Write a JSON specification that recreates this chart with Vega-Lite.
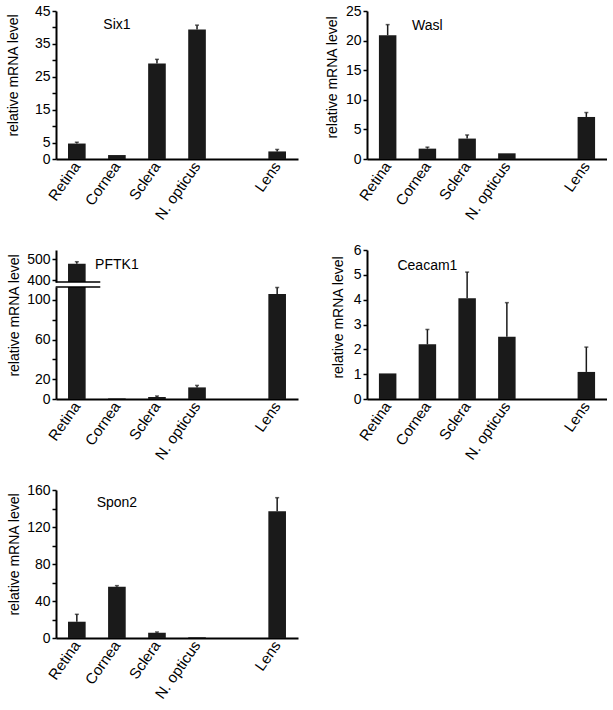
{
  "$schema": "https://vega.github.io/schema/vega-lite/v6.json",
  "background": "white",
  "padding": {"left": 6, "top": 4, "right": 0, "bottom": 0},
  "config": {
    "view": {"stroke": null},
    "font": "Liberation Sans",
    "axis": {"domainColor": "black", "domainWidth": 2, "tickColor": "black", "tickWidth": 1.5, "tickSize": 4, "labelColor": "black", "labelFontSize": 14, "labelFont": "Liberation Sans", "titleFont": "Liberation Sans", "titleFontSize": 14, "titleFontWeight": "normal", "titleColor": "black", "grid": false, "labelPadding": 2, "labelOverlap": false, "labelBound": false, "labelFlush": false},
    "axisX": {"labelAngle": -55, "ticks": false, "labelPadding": 4, "labelFontSize": 15},
    "text": {"font": "Liberation Sans", "fontSize": 14, "color": "black"}
  },
  "datasets": {
    "expr": [
      {"gene": "Six1", "tissue": "Retina", "value": 4.7, "upper": 5.1},
      {"gene": "Six1", "tissue": "Cornea", "value": 1.2, "upper": 1.2},
      {"gene": "Six1", "tissue": "Sclera", "value": 29.0, "upper": 30.3},
      {"gene": "Six1", "tissue": "N. opticus", "value": 39.4, "upper": 40.7},
      {"gene": "Six1", "tissue": "Lens", "value": 2.3, "upper": 2.9},
      {"gene": "Wasl", "tissue": "Retina", "value": 20.9, "upper": 22.7},
      {"gene": "Wasl", "tissue": "Cornea", "value": 1.75, "upper": 2.0},
      {"gene": "Wasl", "tissue": "Sclera", "value": 3.45, "upper": 4.06},
      {"gene": "Wasl", "tissue": "N. opticus", "value": 0.96, "upper": 0.96},
      {"gene": "Wasl", "tissue": "Lens", "value": 7.1, "upper": 7.85},
      {"gene": "PFTK1", "tissue": "Retina", "value": 479, "upper": 489},
      {"gene": "PFTK1", "tissue": "Cornea", "value": 0.6, "upper": 0.6},
      {"gene": "PFTK1", "tissue": "Sclera", "value": 2.0, "upper": 3.0},
      {"gene": "PFTK1", "tissue": "N. opticus", "value": 11.7, "upper": 13.7},
      {"gene": "PFTK1", "tissue": "Lens", "value": 106, "upper": 112.5},
      {"gene": "Ceacam1", "tissue": "Retina", "value": 1.03, "upper": 1.03},
      {"gene": "Ceacam1", "tissue": "Cornea", "value": 2.2, "upper": 2.8},
      {"gene": "Ceacam1", "tissue": "Sclera", "value": 4.06, "upper": 5.11},
      {"gene": "Ceacam1", "tissue": "N. opticus", "value": 2.51, "upper": 3.88},
      {"gene": "Ceacam1", "tissue": "Lens", "value": 1.09, "upper": 2.09},
      {"gene": "Spon2", "tissue": "Retina", "value": 17.6, "upper": 25.6},
      {"gene": "Spon2", "tissue": "Cornea", "value": 55.5, "upper": 56.6},
      {"gene": "Spon2", "tissue": "Sclera", "value": 5.8, "upper": 6.5},
      {"gene": "Spon2", "tissue": "N. opticus", "value": 0.8, "upper": 0.8},
      {"gene": "Spon2", "tissue": "Lens", "value": 137, "upper": 151.7}
    ]
  },
  "columns": 2,
  "spacing": {"row": 91, "column": 69},
  "bounds": "flush",
  "concat": [
    {
      "width": 242, "height": 148,
      "layer": [
        {"data": {"name": "expr"}, "transform": [{"filter": "datum.gene === 'Six1'"}],
         "mark": {"type": "bar", "color": "#1a1a1a"},
         "encoding": {
           "x": {"field": "tissue", "type": "nominal", "title": null, "scale": {"domain": ["Retina", "Cornea", "Sclera", "N. opticus", " ", "Lens"], "paddingInner": 0.56, "paddingOuter": 0.3}},
           "y": {"field": "value", "type": "quantitative", "title": "relative mRNA level", "scale": {"domain": [0, 45], "nice": false}, "axis": {"values": [0, 5, 10, 15, 20, 25, 30, 35, 40, 45], "labelExpr": "(datum.value % 10 == 5 || datum.value == 0) ? datum.label : ''", "titlePadding": 13.5, "titleY": 64}}
         }},
        {"data": {"name": "expr"}, "transform": [{"filter": "datum.gene === 'Six1' && datum.upper > datum.value"}],
         "mark": {"type": "rule", "color": "#1a1a1a", "strokeWidth": 1.5},
         "encoding": {
           "x": {"field": "tissue", "type": "nominal", "title": null},
           "y": {"field": "value", "type": "quantitative", "title": "relative mRNA level", "axis": {"values": [0, 5, 10, 15, 20, 25, 30, 35, 40, 45], "labelExpr": "(datum.value % 10 == 5 || datum.value == 0) ? datum.label : ''", "titlePadding": 13.5, "titleY": 64}},
           "y2": {"field": "upper"}
         }},
        {"data": {"name": "expr"}, "transform": [{"filter": "datum.gene === 'Six1' && datum.upper > datum.value"}],
         "mark": {"type": "tick", "color": "#1a1a1a", "size": 4, "thickness": 1.5},
         "encoding": {
           "x": {"field": "tissue", "type": "nominal", "title": null},
           "y": {"field": "upper", "type": "quantitative", "title": "relative mRNA level", "axis": {"values": [0, 5, 10, 15, 20, 25, 30, 35, 40, 45], "labelExpr": "(datum.value % 10 == 5 || datum.value == 0) ? datum.label : ''", "titlePadding": 13.5, "titleY": 64}}
         }},
        {"data": {"values": [{"label": "Six1"}]},
         "mark": {"type": "text"},
         "encoding": {"x": {"datum": "Cornea", "title": null}, "y": {"datum": 40.6, "title": "relative mRNA level", "axis": {"values": [0, 5, 10, 15, 20, 25, 30, 35, 40, 45], "labelExpr": "(datum.value % 10 == 5 || datum.value == 0) ? datum.label : ''", "titlePadding": 13.5, "titleY": 64}}, "text": {"field": "label"}}}
      ]
    },
    {
      "width": 240, "height": 148,
      "layer": [
        {"data": {"name": "expr"}, "transform": [{"filter": "datum.gene === 'Wasl'"}],
         "mark": {"type": "bar", "color": "#1a1a1a"},
         "encoding": {
           "x": {"field": "tissue", "type": "nominal", "title": null, "scale": {"domain": ["Retina", "Cornea", "Sclera", "N. opticus", " ", "Lens"], "paddingInner": 0.56, "paddingOuter": 0.3}},
           "y": {"field": "value", "type": "quantitative", "title": "relative mRNA level", "scale": {"domain": [0, 25], "nice": false}, "axis": {"values": [0, 5, 10, 15, 20, 25], "titlePadding": 5.5, "titleY": 66}}
         }},
        {"data": {"name": "expr"}, "transform": [{"filter": "datum.gene === 'Wasl' && datum.upper > datum.value"}],
         "mark": {"type": "rule", "color": "#1a1a1a", "strokeWidth": 1.5},
         "encoding": {
           "x": {"field": "tissue", "type": "nominal", "title": null},
           "y": {"field": "value", "type": "quantitative", "title": "relative mRNA level", "axis": {"values": [0, 5, 10, 15, 20, 25], "titlePadding": 5.5, "titleY": 66}},
           "y2": {"field": "upper"}
         }},
        {"data": {"name": "expr"}, "transform": [{"filter": "datum.gene === 'Wasl' && datum.upper > datum.value"}],
         "mark": {"type": "tick", "color": "#1a1a1a", "size": 4, "thickness": 1.5},
         "encoding": {
           "x": {"field": "tissue", "type": "nominal", "title": null},
           "y": {"field": "upper", "type": "quantitative", "title": "relative mRNA level", "axis": {"values": [0, 5, 10, 15, 20, 25], "titlePadding": 5.5, "titleY": 66}}
         }},
        {"data": {"values": [{"label": "Wasl"}]},
         "mark": {"type": "text"},
         "encoding": {"x": {"datum": "Cornea", "title": null}, "y": {"datum": 22.5, "title": "relative mRNA level", "axis": {"values": [0, 5, 10, 15, 20, 25], "titlePadding": 5.5, "titleY": 66}}, "text": {"field": "label"}}}
      ]
    },
    {
      "spacing": 5,
      "bounds": "flush",
      "vconcat": [
        {
          "width": 242, "height": 32,
          "layer": [
            {"data": {"name": "expr"}, "transform": [{"filter": "datum.gene === 'PFTK1' && datum.value > 392"}],
             "mark": {"type": "bar", "color": "#1a1a1a", "clip": true},
             "encoding": {
               "x": {"field": "tissue", "type": "nominal", "title": null, "axis": null, "scale": {"domain": ["Retina", "Cornea", "Sclera", "N. opticus", " ", "Lens"], "paddingInner": 0.56, "paddingOuter": 0.3}},
               "y": {"field": "value", "type": "quantitative", "title": null, "scale": {"domain": [392, 545], "nice": false, "zero": false}, "axis": {"values": [400, 500]}}
             }},
            {"data": {"name": "expr"}, "transform": [{"filter": "datum.gene === 'PFTK1' && datum.value > 392"}],
             "mark": {"type": "rule", "color": "#1a1a1a", "strokeWidth": 1.5},
             "encoding": {
               "x": {"field": "tissue", "type": "nominal", "title": null, "axis": null},
               "y": {"field": "value", "type": "quantitative", "title": null, "axis": {"values": [400, 500]}},
               "y2": {"field": "upper"}
             }},
            {"data": {"name": "expr"}, "transform": [{"filter": "datum.gene === 'PFTK1' && datum.value > 392"}],
             "mark": {"type": "tick", "color": "#1a1a1a", "size": 4, "thickness": 1.5},
             "encoding": {
               "x": {"field": "tissue", "type": "nominal", "title": null, "axis": null},
               "y": {"field": "upper", "type": "quantitative", "title": null, "axis": {"values": [400, 500]}}
             }},
            {"data": {"values": [{"label": "PFTK1"}]},
             "mark": {"type": "text"},
             "encoding": {"x": {"datum": "Cornea", "title": null, "axis": null}, "y": {"datum": 474, "title": null, "axis": {"values": [400, 500]}}, "text": {"field": "label"}}},
            {"data": {"values": [{"edge": "break"}]},
             "mark": {"type": "rule", "color": "black", "strokeWidth": 1.5},
             "encoding": {"x": {"datum": "Retina", "bandPosition": -0.7, "title": null, "axis": null}, "x2": {"datum": "Retina", "bandPosition": 1.83}, "y": {"datum": 392, "title": null, "axis": {"values": [400, 500]}}}}
          ]
        },
        {
          "width": 242, "height": 112,
          "layer": [
            {"data": {"name": "expr"}, "transform": [{"filter": "datum.gene === 'PFTK1'"}],
             "mark": {"type": "bar", "color": "#1a1a1a", "clip": true},
             "encoding": {
               "x": {"field": "tissue", "type": "nominal", "title": null, "scale": {"domain": ["Retina", "Cornea", "Sclera", "N. opticus", " ", "Lens"], "paddingInner": 0.56, "paddingOuter": 0.3}},
               "y": {"field": "value", "type": "quantitative", "title": "relative mRNA level", "scale": {"domain": [0, 113], "nice": false}, "axis": {"values": [0, 20, 40, 60, 80, 100], "labelExpr": "(datum.value == 40 || datum.value == 80) ? '' : datum.label", "titlePadding": 5.5, "titleY": 28}}
             }},
            {"data": {"name": "expr"}, "transform": [{"filter": "datum.gene === 'PFTK1' && datum.upper > datum.value && datum.value < 392"}],
             "mark": {"type": "rule", "color": "#1a1a1a", "strokeWidth": 1.5},
             "encoding": {
               "x": {"field": "tissue", "type": "nominal", "title": null},
               "y": {"field": "value", "type": "quantitative", "title": "relative mRNA level", "axis": {"values": [0, 20, 40, 60, 80, 100], "labelExpr": "(datum.value == 40 || datum.value == 80) ? '' : datum.label", "titlePadding": 5.5, "titleY": 28}},
               "y2": {"field": "upper"}
             }},
            {"data": {"name": "expr"}, "transform": [{"filter": "datum.gene === 'PFTK1' && datum.upper > datum.value && datum.value < 392"}],
             "mark": {"type": "tick", "color": "#1a1a1a", "size": 4, "thickness": 1.5},
             "encoding": {
               "x": {"field": "tissue", "type": "nominal", "title": null},
               "y": {"field": "upper", "type": "quantitative", "title": "relative mRNA level", "axis": {"values": [0, 20, 40, 60, 80, 100], "labelExpr": "(datum.value == 40 || datum.value == 80) ? '' : datum.label", "titlePadding": 5.5, "titleY": 28}}
             }},
            {"data": {"values": [{"edge": "break"}]},
             "mark": {"type": "rule", "color": "black", "strokeWidth": 1.5},
             "encoding": {"x": {"datum": "Retina", "bandPosition": -0.7, "title": null}, "x2": {"datum": "Retina", "bandPosition": 1.83}, "y": {"datum": 113, "title": "relative mRNA level", "axis": {"values": [0, 20, 40, 60, 80, 100], "labelExpr": "(datum.value == 40 || datum.value == 80) ? '' : datum.label", "titlePadding": 5.5, "titleY": 28}}}}
          ]
        }
      ]
    },
    {
      "width": 240, "height": 149,
      "layer": [
        {"data": {"name": "expr"}, "transform": [{"filter": "datum.gene === 'Ceacam1'"}],
         "mark": {"type": "bar", "color": "#1a1a1a"},
         "encoding": {
           "x": {"field": "tissue", "type": "nominal", "title": null, "scale": {"domain": ["Retina", "Cornea", "Sclera", "N. opticus", " ", "Lens"], "paddingInner": 0.56, "paddingOuter": 0.3}},
           "y": {"field": "value", "type": "quantitative", "title": "relative mRNA level", "scale": {"domain": [0, 6], "nice": false}, "axis": {"values": [0, 1, 2, 3, 4, 5, 6], "titlePadding": 8, "titleY": 67}}
         }},
        {"data": {"name": "expr"}, "transform": [{"filter": "datum.gene === 'Ceacam1' && datum.upper > datum.value"}],
         "mark": {"type": "rule", "color": "#1a1a1a", "strokeWidth": 1.5},
         "encoding": {
           "x": {"field": "tissue", "type": "nominal", "title": null},
           "y": {"field": "value", "type": "quantitative", "title": "relative mRNA level", "axis": {"values": [0, 1, 2, 3, 4, 5, 6], "titlePadding": 8, "titleY": 67}},
           "y2": {"field": "upper"}
         }},
        {"data": {"name": "expr"}, "transform": [{"filter": "datum.gene === 'Ceacam1' && datum.upper > datum.value"}],
         "mark": {"type": "tick", "color": "#1a1a1a", "size": 4, "thickness": 1.5},
         "encoding": {
           "x": {"field": "tissue", "type": "nominal", "title": null},
           "y": {"field": "upper", "type": "quantitative", "title": "relative mRNA level", "axis": {"values": [0, 1, 2, 3, 4, 5, 6], "titlePadding": 8, "titleY": 67}}
         }},
        {"data": {"values": [{"label": "Ceacam1"}]},
         "mark": {"type": "text"},
         "encoding": {"x": {"datum": "Cornea", "title": null}, "y": {"datum": 5.36, "title": "relative mRNA level", "axis": {"values": [0, 1, 2, 3, 4, 5, 6], "titlePadding": 8, "titleY": 67}}, "text": {"field": "label"}}}
      ]
    },
    {
      "width": 242, "height": 148,
      "layer": [
        {"data": {"name": "expr"}, "transform": [{"filter": "datum.gene === 'Spon2'"}],
         "mark": {"type": "bar", "color": "#1a1a1a"},
         "encoding": {
           "x": {"field": "tissue", "type": "nominal", "title": null, "scale": {"domain": ["Retina", "Cornea", "Sclera", "N. opticus", " ", "Lens"], "paddingInner": 0.56, "paddingOuter": 0.3}},
           "y": {"field": "value", "type": "quantitative", "title": "relative mRNA level", "scale": {"domain": [0, 160], "nice": false}, "axis": {"values": [0, 20, 40, 60, 80, 100, 120, 140, 160], "labelExpr": "(datum.value % 40 == 0) ? datum.label : ''", "titlePadding": 5.5, "titleY": 64}}
         }},
        {"data": {"name": "expr"}, "transform": [{"filter": "datum.gene === 'Spon2' && datum.upper > datum.value"}],
         "mark": {"type": "rule", "color": "#1a1a1a", "strokeWidth": 1.5},
         "encoding": {
           "x": {"field": "tissue", "type": "nominal", "title": null},
           "y": {"field": "value", "type": "quantitative", "title": "relative mRNA level", "axis": {"values": [0, 20, 40, 60, 80, 100, 120, 140, 160], "labelExpr": "(datum.value % 40 == 0) ? datum.label : ''", "titlePadding": 5.5, "titleY": 64}},
           "y2": {"field": "upper"}
         }},
        {"data": {"name": "expr"}, "transform": [{"filter": "datum.gene === 'Spon2' && datum.upper > datum.value"}],
         "mark": {"type": "tick", "color": "#1a1a1a", "size": 4, "thickness": 1.5},
         "encoding": {
           "x": {"field": "tissue", "type": "nominal", "title": null},
           "y": {"field": "upper", "type": "quantitative", "title": "relative mRNA level", "axis": {"values": [0, 20, 40, 60, 80, 100, 120, 140, 160], "labelExpr": "(datum.value % 40 == 0) ? datum.label : ''", "titlePadding": 5.5, "titleY": 64}}
         }},
        {"data": {"values": [{"label": "Spon2"}]},
         "mark": {"type": "text"},
         "encoding": {"x": {"datum": "Cornea", "title": null}, "y": {"datum": 145.6, "title": "relative mRNA level", "axis": {"values": [0, 20, 40, 60, 80, 100, 120, 140, 160], "labelExpr": "(datum.value % 40 == 0) ? datum.label : ''", "titlePadding": 5.5, "titleY": 64}}, "text": {"field": "label"}}}
      ]
    }
  ]
}
